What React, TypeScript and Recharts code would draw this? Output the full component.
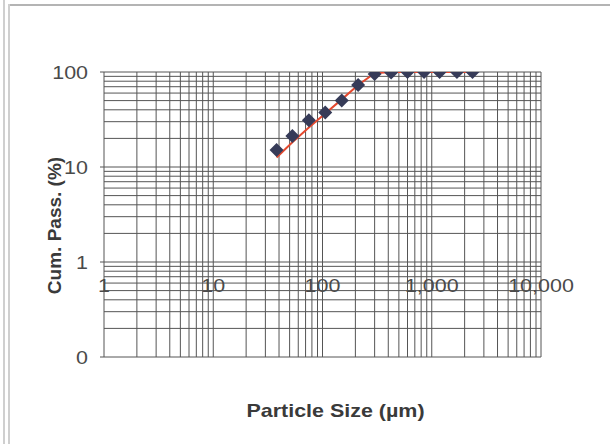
import { ComposedChart, Line, XAxis, YAxis, CartesianGrid, Label } from 'recharts';

// sieve sizes (µm) and cumulative % passing
const sizes = [38, 53, 75, 106, 150, 212, 300, 425, 600, 850, 1180, 1700, 2360];
const passing = [15.1, 21.2, 31, 37.5, 50, 73, 95, 99, 100, 100, 100, 100, 100];
const fitted = [12.6, 18.2, 26, 36.5, 51.5, 73, 97, 100, 100, 100, 100, 100, 100];

const xDecades = [1, 10, 100, 1000];
const yDecades = [0.1, 1, 10];

// log grid: 1..9 within every decade, plus the closing decade
const gridTicks = (decades: number[]) => {
  const out: number[] = [];
  decades.forEach((d) => {
    for (let m = 1; m < 10; m++) out.push(+(m * d).toPrecision(3));
  });
  out.push(decades[decades.length - 1] * 10);
  return out;
};

const xTicks = gridTicks(xDecades);
const yTicks = gridTicks(yDecades);

const data = sizes.map((s, i) => ({ size: s, passing: passing[i], fit: fitted[i] }));

const isDecade = (v: number) => Math.abs(Math.log10(v) - Math.round(Math.log10(v))) < 1e-6;

const STRETCH = 1.13; // the scanned original is a bit wide
const tickFont = { fontFamily: 'Liberation Sans, Arial, sans-serif', fontSize: 19, fill: '#4a4a4a' };
const titleFont = { fontFamily: 'Liberation Sans, Arial, sans-serif', fontSize: 19, fontWeight: 700, fill: '#3a3a3a' };

function WideText({ x, y, anchor, style, children }: any) {
  return (
    <text
      transform={`translate(${x}, ${y}) scale(${STRETCH}, 1)`}
      textAnchor={anchor}
      dominantBaseline="central"
      {...style}
    >
      {children}
    </text>
  );
}

function XTick(props: any) {
  const { x, y, payload } = props;
  const v = payload.value as number;
  if (!isDecade(v)) return <g />;
  return (
    <WideText x={x} y={y - 72} anchor="middle" style={tickFont}>
      {v.toLocaleString('en-US')}
    </WideText>
  );
}

function YTick(props: any) {
  const { x, y, payload } = props;
  const v = payload.value as number;
  if (!isDecade(v)) return <g />;
  return (
    <g>
      <line x1={x - 4} x2={x} y1={y} y2={y} stroke="#555" />
      <WideText x={x - 16} y={y} anchor="end" style={tickFont}>
        {v < 1 ? '0' : String(v)}
      </WideText>
    </g>
  );
}

function Diamond(props: any) {
  const { cx, cy, index } = props;
  if (cx == null || cy == null) return <g key={index} />;
  const r = 7;
  return (
    <polygon
      key={index}
      points={`${cx},${cy - r} ${cx + r},${cy} ${cx},${cy + r} ${cx - r},${cy}`}
      fill="#363b58"
    />
  );
}

export default function App() {
  return (
    <div style={{ position: 'absolute', left: 0, top: 0, width: 610, height: 444, background: '#fff', overflow: 'hidden' }}>
      <div style={{ position: 'absolute', left: 8, top: 4, right: 0, height: 2, background: '#b4b4b4' }} />
      <div style={{ position: 'absolute', left: 3, top: 0, bottom: 0, width: 2, background: '#cfcfcf' }} />
      <div style={{ position: 'absolute', left: 8, top: 4, bottom: 0, width: 2, background: '#cfcfcf' }} />
      <ComposedChart
        width={610}
        height={444}
        data={data}
        margin={{ top: 72, right: 69, bottom: 17, left: 44 }}
      >
        <CartesianGrid stroke="#555" strokeWidth={1} />
        <XAxis
          dataKey="size"
          type="number"
          scale="log"
          domain={[1, 10000]}
          ticks={xTicks}
          interval={0}
          allowDataOverflow
          axisLine={false}
          tickLine={false}
          tickSize={0}
          tickMargin={0}
          height={70}
          tick={<XTick />}
        >
          <Label
            content={({ viewBox }: any) => (
              <WideText
                x={viewBox.x + viewBox.width / 2 + 13}
                y={viewBox.y + viewBox.height - 17}
                anchor="middle"
                style={titleFont}
              >
                Particle Size (µm)
              </WideText>
            )}
          />
        </XAxis>
        <YAxis
          type="number"
          scale="log"
          domain={[0.1, 100]}
          ticks={yTicks}
          interval={0}
          allowDataOverflow
          axisLine={false}
          tickLine={false}
          tickSize={0}
          tickMargin={0}
          width={60}
          tick={<YTick />}
        >
          <Label
            content={({ viewBox }: any) => {
              const cx = viewBox.x + 10;
              const cy = viewBox.y + viewBox.height / 2 + 11;
              return (
                <text
                  x={cx}
                  y={cy}
                  textAnchor="middle"
                  dominantBaseline="central"
                  transform={`rotate(-90, ${cx}, ${cy})`}
                  {...titleFont}
                >
                  Cum. Pass. (%)
                </text>
              );
            }}
          />
        </YAxis>
        <Line
          dataKey="fit"
          type="linear"
          stroke="#e4482e"
          strokeWidth={2}
          dot={false}
          isAnimationActive={false}
        />
        <Line
          dataKey="passing"
          type="linear"
          stroke="none"
          dot={<Diamond />}
          activeDot={false}
          isAnimationActive={false}
        />
      </ComposedChart>
    </div>
  );
}
